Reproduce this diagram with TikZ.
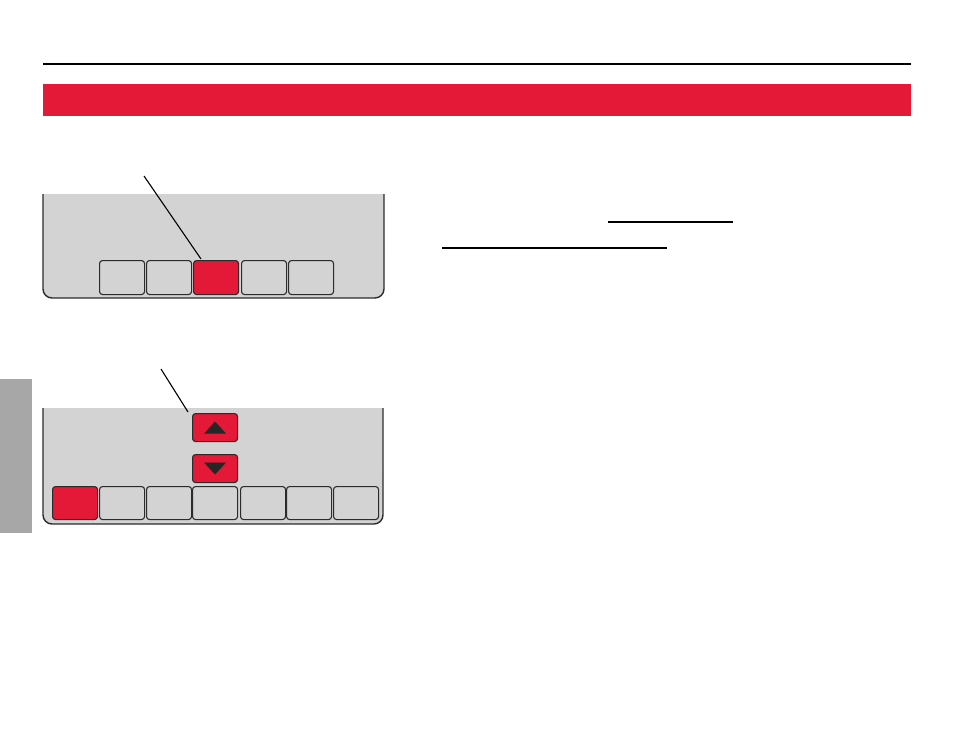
\documentclass[tikz,border=0pt]{standalone}
\usetikzlibrary{calc}
\definecolor{hwred}{HTML}{E41837}
\definecolor{panelgray}{HTML}{D3D3D3}
\definecolor{tabgray}{HTML}{A7A7A7}
\definecolor{edge}{HTML}{2B2B2B}
\tikzset{
  btn/.style={draw=edge, line width=1.1pt, fill=panelgray, rounded corners=3pt},
  redbtn/.style={btn, fill=hwred},
  paneledge/.style={draw=edge, line width=1.4pt, rounded corners=9pt},
  panelfill/.style={fill=panelgray},
  leader/.style={draw=black, line width=1.1pt},
  rule/.style={draw=black, line width=1.2pt},
  tri/.style={fill=black!85, draw=none}
}
\begin{document}
\begin{tikzpicture}[x=1pt,y=-1pt]
\useasboundingbox (0,0) rectangle (954,737);
% top rule and red band
\draw[line width=2pt] (43,64) coordinate (r1) -- (911,64) coordinate (r2);
\fill[hwred] (43,84) rectangle (911,116);
% side tab
\fill[tabgray] (0,379) rectangle (32,533);

% panel 1 (open top)
\fill[panelfill] (43,194) rectangle (384,260);
\fill[panelfill, rounded corners=9pt] (43,240) rectangle (384,298);
\draw[paneledge] (43,194) -- (43,298) -- (384,298) -- (384,194);
\foreach \i/\x in {1/99,2/146,3/193,4/241,5/288}{
  \ifnum\i=3
    \node[redbtn, minimum width=45pt, minimum height=34pt, inner sep=0pt, anchor=north west] (pa\i) at (\x,260) {};
  \else
    \node[btn, minimum width=45pt, minimum height=34pt, inner sep=0pt, anchor=north west] (pa\i) at (\x,260) {};
  \fi
}
\coordinate (la) at (144,176);
\draw[leader] (la) -- ($(pa3.north west)+(8,-1)$);

% panel 2 (open top)
\fill[panelfill] (43,408) rectangle (383,480);
\fill[panelfill, rounded corners=9pt] (43,460) rectangle (383,524);
\draw[paneledge] (43,408) -- (43,524) -- (383,524) -- (383,408);
\foreach \i/\x in {1/52,2/99,3/146,4/192,5/240,6/286,7/333}{
  \ifnum\i=1
    \node[redbtn, minimum width=45pt, minimum height=33pt, inner sep=0pt, anchor=north west] (pb\i) at (\x,486) {};
  \else
    \node[btn, minimum width=45pt, minimum height=33pt, inner sep=0pt, anchor=north west] (pb\i) at (\x,486) {};
  \fi
}
\node[redbtn, minimum width=45pt, minimum height=28pt, inner sep=0pt, anchor=north west] (up) at (192,413) {};
\node[redbtn, minimum width=45pt, minimum height=28pt, inner sep=0pt, anchor=north west] (dn) at (192,454) {};
\fill[tri] ($(up.center)+(-11,6)$) -- ($(up.center)+(11,6)$) -- ($(up.center)+(0,-6)$) -- cycle;
\fill[tri] ($(dn.center)+(-11,-6)$) -- ($(dn.center)+(11,-6)$) -- ($(dn.center)+(0,6)$) -- cycle;
\coordinate (lb) at (161,369);
\draw[leader] (lb) -- ($(up.north west)+(-4,-1)$);

% underlines
\draw[rule] (608,222) coordinate (u1a) -- (733,222) coordinate (u1b);
\draw[rule] (442,248) coordinate (u2a) -- (667,248) coordinate (u2b);
\end{tikzpicture}
\end{document}
